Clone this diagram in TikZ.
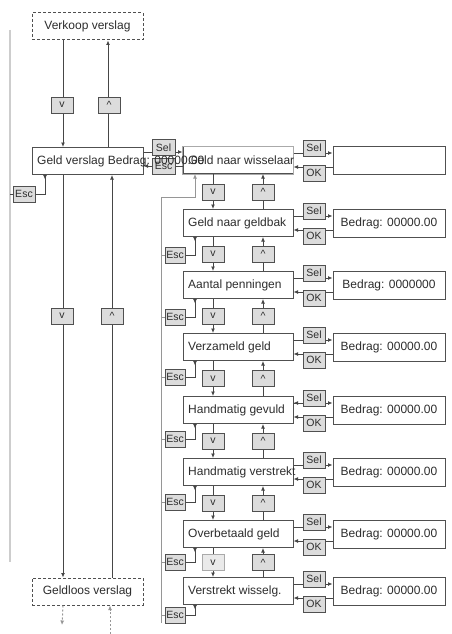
\documentclass[tikz,border=0pt]{standalone}
\usepackage{fontspec}
\setmainfont{Liberation Sans}
\usetikzlibrary{arrows.meta}
\definecolor{boxc}{RGB}{80,80,80}
\definecolor{linec}{RGB}{70,70,70}
\definecolor{btnfill}{RGB}{220,220,220}
\definecolor{esclinec}{RGB}{150,150,150}
\definecolor{biglinec}{RGB}{205,205,205}
\definecolor{lightbox}{RGB}{170,170,170}
\definecolor{txtc}{RGB}{45,45,45}
\begin{document}
\begin{tikzpicture}[x=1pt,y=-1pt,
  rowbox/.style={draw=boxc, line width=1pt, fill=white, minimum width=110pt, minimum height=27pt, inner sep=0pt},
  rowtxt/.style={anchor=west, inner sep=0pt, text=txtc, font=\fontsize{12}{12}\selectfont},
  valbox/.style={draw=boxc, line width=1pt, fill=white, minimum width=112pt, minimum height=28pt, inner sep=0pt, text=txtc, font=\fontsize{12}{12}\selectfont},
  btn/.style={draw=boxc, line width=1pt, fill=btnfill, minimum width=22pt, minimum height=16pt, inner sep=0pt, text=txtc, font=\fontsize{10.5}{10.5}\selectfont},
  dashbox/.style={draw=boxc, line width=1pt, dash pattern=on 3pt off 2pt, fill=white, minimum width=111pt, minimum height=27pt, inner sep=0pt, text=txtc, font=\fontsize{12}{12}\selectfont},
  conn/.style={draw=linec, line width=0.9pt},
  tip/.style={-{Latex[length=4.5pt,width=4pt]}},
  rtip/.style={{Latex[length=4.5pt,width=4pt,reversed]}-},
  escline/.style={draw=esclinec, line width=1pt},
]
\useasboundingbox (0,0) rectangle (451,634);

% helper x positions
\coordinate (xa) at (63,0);
\coordinate (xb) at (108,0);
\coordinate (xc) at (112,0);
\coordinate (xd) at (110,0);
\coordinate (xg) at (45,0);
\coordinate (xv) at (213,0);
\coordinate (xu) at (263,0);
\coordinate (xe) at (195,0);
\coordinate (escTop) at (161,197);
\coordinate (escBot) at (161,623);
\coordinate (bigTop) at (10,30);
\coordinate (bigBot) at (10,562);
\coordinate (dotEnd) at (62,625);
\coordinate (dotStart) at (110,634);

% big gray line at left
\draw[biglinec, line width=2.5pt] (bigTop) -- (bigBot);

% left column
\node[dashbox] (verkoop) at (87.5,26.5) {Verkoop verslag};
\node[rowbox, minimum width=111pt] (gv) at (87.5,161) {};
\node[dashbox] (geldloos) at (87.5,591.5) {Geldloos verslag};

\draw[conn,tip] (xa |- verkoop.south) -- (xa |- gv.north);
\draw[conn,tip] (xb |- gv.north) -- (xb |- verkoop.south);
\draw[conn,tip] (xa |- gv.south) -- (xa |- geldloos.north);
\draw[conn,tip] (xc |- geldloos.north) -- (xc |- gv.south);
\draw[escline,dash pattern=on 2pt off 2pt,tip] (xa |- geldloos.south) -- (dotEnd);
\draw[escline,dash pattern=on 2pt off 2pt,tip] (dotStart) -- (xd |- geldloos.south);

\node[btn] (v1) at (62,105) {v};
\node[btn] (u1) at (109,105) {\textasciicircum};
\node[btn] (v2) at (62,316) {v};
\node[btn] (u2) at (112,316) {\textasciicircum};

% Esc of Geld verslag
\node[btn] (esc0) at (24,194) {Esc};
\draw[conn] (bigTop |- esc0.west) -- (esc0.west);
\draw[conn,rtip] (xg |- gv.south) |- (esc0.east);

% right chain rows
\foreach \i/\y in {0/160, 1/223, 2/285, 3/347, 4/410, 5/472, 6/534, 7/591}{
  \node[rowbox] (r\i) at (238,\y) {};
}
\draw[lightbox, line width=1pt] (r0.north west) rectangle (r0.south east);

\foreach \i/\y/\t in {0/160/Geld naar wisselaar, 1/223/Geld naar geldbak, 2/285/Aantal penningen, 3/347/Verzameld geld, 4/410/Handmatig gevuld, 5/472/Handmatig verstrekt, 6/534/Overbetaald geld, 7/591/Verstrekt wisselg.}{
  \node[rowtxt] (t\i) at (188,\y) {\t};
}

% value boxes with Sel / OK
\foreach \i/\y/\v in {0/160/{}, 1/223/{Bedrag: 00000.00}, 2/285/{Bedrag: 0000000}, 3/347/{Bedrag: 00000.00}, 4/410/{Bedrag: 00000.00}, 5/472/{Bedrag: 00000.00}, 6/534/{Bedrag: 00000.00}, 7/591/{Bedrag: 00000.00}}{
  \node[valbox] (b\i) at (389,\y) {\v};
  \draw[conn,tip] ([yshift=7pt]r\i.east) -- ([yshift=7pt]b\i.west);
  \draw[conn,tip] ([yshift=-7pt]b\i.west) -- ([yshift=-7pt]r\i.east);
  \node[btn] (s\i) at (314,\y-12) {Sel};
  \node[btn] (o\i) at (314,\y+13) {OK};
}
\draw[conn,{Latex[length=4.5pt,width=4pt]}-] ([yshift=7pt]r4.east) -- ++(6,0);

% Geld verslag <-> Geld naar wisselaar
\draw[conn,tip] ([yshift=9pt]gv.east) -- ([yshift=8pt]r0.west);
\draw[conn,tip] ([yshift=-6pt]r0.west) -- ([yshift=-5pt]gv.east);
\node[btn, minimum width=23pt] (sg) at (163.5,147.5) {Sel};
\node[btn, minimum width=23pt] (eg) at (163.5,166) {Esc};

% text of Geld verslag (overflowing, drawn on top)
\node[rowtxt] (gvt) at (37,161) {Geld verslag Bedrag: 00000.00};

% v / ^ between rows
\foreach \i/\j/\m in {0/1/192, 1/2/254, 2/3/316, 3/4/378.5, 4/5/441, 5/6/503, 6/7/562.5}{
  \draw[conn,tip] (xv |- r\i.south) -- (xv |- r\j.north);
  \draw[conn,tip] (xu |- r\j.north) -- (xu |- r\i.south);
  \node[btn] (dv\i) at (213,\m) {v};
  \node[btn] (du\i) at (263,\m) {\textasciicircum};
}
\node[btn, draw=lightbox, fill=btnfill!60] (dv6b) at (213,562.5) {v};

% Esc chain on the right
\draw[escline] (escBot) -- (escTop);
\draw[escline,tip] (escTop) -| (xe |- r0.south);
\foreach \i/\m in {1/255, 2/317, 3/377, 4/439, 5/502, 6/562, 7/615}{
  \node[btn, minimum width=20pt] (e\i) at (175,\m) {Esc};
  \draw[escline] (escTop |- e\i.west) -- (e\i.west);
  \draw[conn,rtip] (xe |- r\i.south) |- (e\i.east);
}
\end{tikzpicture}
\end{document}
